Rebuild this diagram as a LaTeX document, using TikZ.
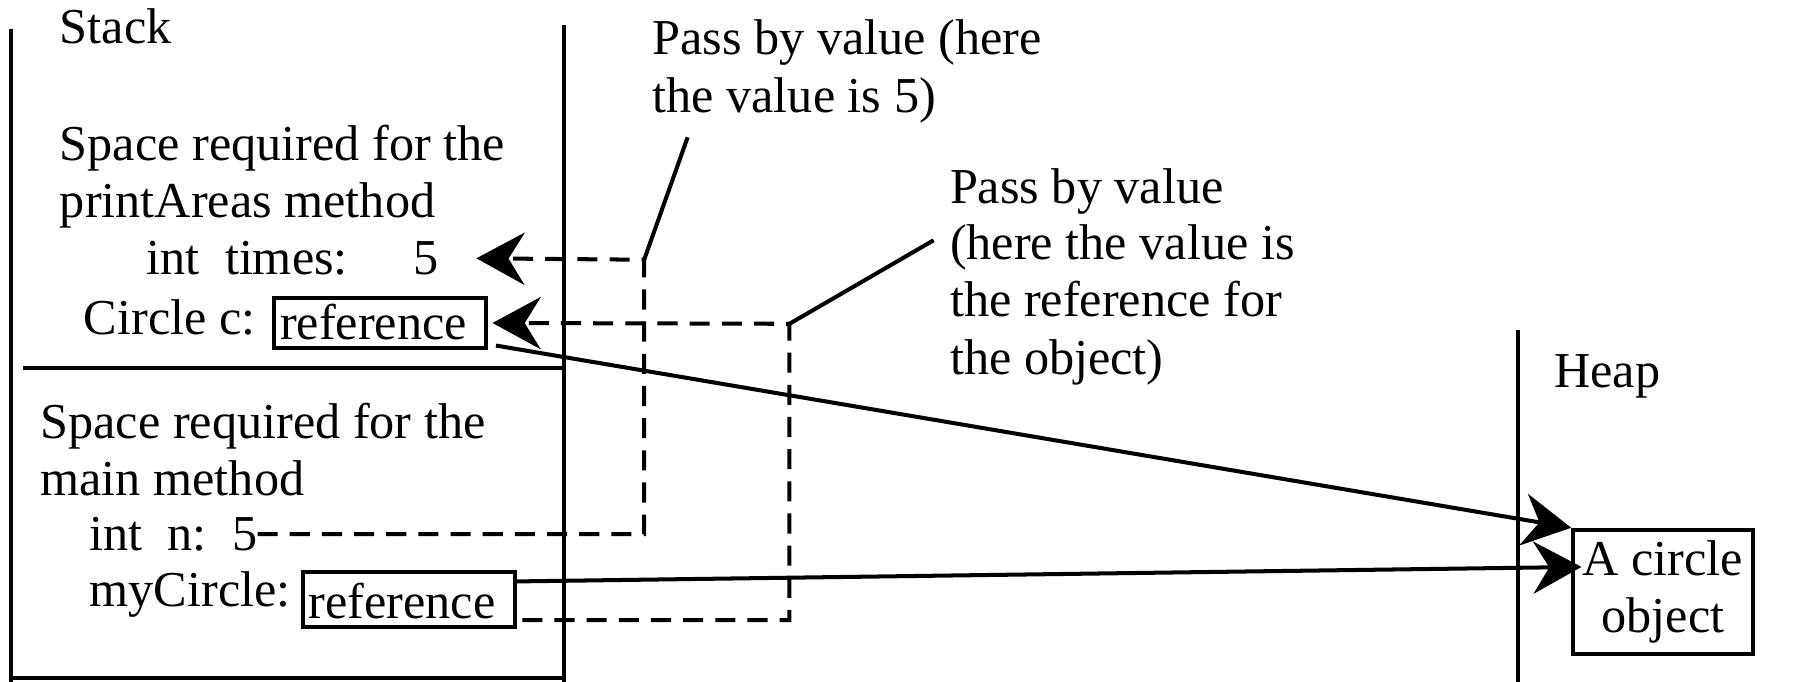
\documentclass[tikz,border=0pt]{standalone}
\usepackage{fontspec}
\setmainfont{Liberation Serif}
\usetikzlibrary{arrows.meta, positioning, calc}

\begin{document}
\begin{tikzpicture}[x=0.02cm, y=-0.02cm,
    font=\fontsize{25}{28.5}\selectfont,
    >={Stealth[length=24pt, width=26pt, inset=8pt]},
    txt/.style={anchor=base west, inner sep=0pt},
    wall/.style={line width=2pt},
    refbox/.style={draw, line width=2pt, anchor=south west, inner xsep=0.1cm, inner ysep=0pt,
          text width=3.5cm, align=left, text height=20.5pt, text depth=4.5pt},
    passline/.style={line width=2pt, dash pattern=on 10pt off 6pt}]
    \useasboundingbox (0,0) rectangle (1568,596);

    % Walls
    \draw[wall] (10,25) -- (10,596);
    \draw[wall] (493,22) -- (493,596);
    \draw[wall] (20,322) -- (493,322);
    \draw[wall] (10,593) -- (493,593);
    \draw[wall] (1327,288) -- (1327,596);

    % Nodes
    \node[txt] (stack) at (52,38) {Stack};
    \node[txt] (pa1) at (52,140) {Space required for the};
    \node[txt] (pa2) at (52,190) {printAreas method};
    \node[txt] (times) at (128,240) {int\ \ times:\hspace{1.14cm}5};
    \node[txt] (circ) at (73,292) {Circle c:};
    \node[refbox] (ref1) at (238,306) {reference};

    \node[txt] (mn1) at (35,383) {Space required for the};
    \node[txt] (mn2) at (35,433) {main method};
    \node[txt] (nval) at (78,481) {int\ \ n:\ \ 5};
    \node[txt] (myc) at (78,530) {myCircle:};
    \node[refbox, text height=23pt] (ref2) at (263,550) {reference};

    \node[txt] (pv1a) at (570,48) {Pass by value (here};
    \node[txt] (pv1b) at (570,98) {the value is 5)};
    \node[txt] (pv2a) at (830,178) {Pass by value};
    \node[txt] (pv2b) at (830,227) {(here the value is};
    \node[txt] (pv2c) at (830,277) {the reference for};
    \node[txt] (pv2d) at (830,327) {the object)};

    \node[txt] (heap) at (1358,339) {Heap};
    \node[draw, line width=2pt, minimum width=3.14cm, minimum height=2.18cm, align=center,
          inner sep=0pt] (obj) at (1453.5,517.5) {A circle\\object};

    % Corners
    \coordinate (c1) at (563,227);
    \coordinate (c2) at (690,283);
    \coordinate (lead1) at (601,120);
    \coordinate (lead2) at (816,210);

    % Arrows
    \draw[passline, ->] (nval.east) -| (c1) -- ($(times.east)+(33,0)$);
    \draw[passline, ->] ($(ref2.south east)+(5,-8)$) -| (c2) -- ($(ref1.east)+(4,0)$);
    \draw[wall] (c1) -- (lead1);
    \draw[wall] (c2) -- (lead2);
    \draw[wall, ->] ($(ref1.south east)+(7,-4)$) -- (obj.north west);
    \draw[wall, ->] ($(ref2.north east)+(0,10)$) -- ($(obj.west)+(9,-22)$);
\end{tikzpicture}
\end{document}
